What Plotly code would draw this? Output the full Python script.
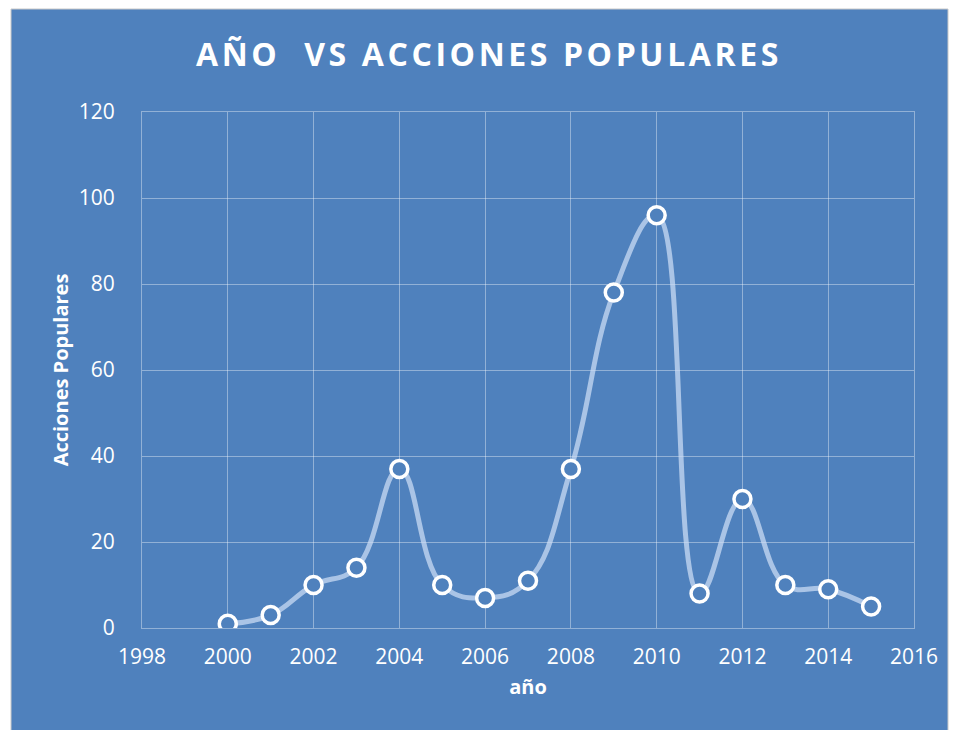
import plotly.graph_objects as go

years = [2000, 2001, 2002, 2003, 2004, 2005, 2006, 2007, 2008, 2009, 2010, 2011, 2012, 2013, 2014, 2015]
acciones = [1, 3, 10, 14, 37, 10, 7, 11, 37, 78, 96, 8, 30, 10, 9, 5]

title_text = "AÑO  VS ACCIONES POPULARES"
x_title = "año"
y_title = "Acciones Populares"

BLUE = "#4F81BD"
OFF = 8  # page body margin
W, H = 958 - 2 * OFF, 738 - 2 * OFF
L, T = 142 - OFF, 112 - OFF
R = W - (914 - OFF)
B = H - (628 - OFF)
pw, ph = W - L - R, H - T - B

fig = go.Figure()
fig.add_trace(go.Scatter(
    x=years, y=acciones, mode="lines+markers",
    line=dict(shape="spline", smoothing=1.2, color="rgba(205,222,245,0.72)", width=5),
    marker=dict(size=17, color=BLUE, line=dict(color="white", width=3.5)),
    hoverinfo="x+y", showlegend=False,
))

# blue panel background (in paper coordinates)
fig.add_shape(type="rect", xref="paper", yref="paper", layer="below",
              x0=(11 - OFF - L) / pw, x1=(948 - OFF - L) / pw,
              y0=(H - B - (731 - OFF)) / ph, y1=(H - B - (9 - OFF)) / ph,
              fillcolor=BLUE, line=dict(color="#c9c9c9", width=1))

grid = "rgba(255,255,255,0.38)"
fig.update_layout(
    width=W, height=H,
    margin=dict(l=L, r=R, t=T, b=B),
    paper_bgcolor="white", plot_bgcolor=BLUE,
    font=dict(family="Open Sans", color="white"),
    title=dict(text="<b><span style='letter-spacing:3.6px'>" + title_text + "</span></b>",
               x=(489 - OFF - L) / pw, xref="paper", xanchor="center",
               y=1 - (55 - OFF) / H, yanchor="middle",
               font=dict(size=32, color="white", family="Open Sans")),
    xaxis=dict(range=[1998, 2016], dtick=2, tick0=1998, showgrid=True, gridcolor=grid, gridwidth=1.2,
               zeroline=False, ticks="", ticklabelstandoff=10,
               tickfont=dict(size=21, color="white"),
               title=dict(text="<b>" + x_title + "</b>", font=dict(size=20, color="white"), standoff=10)),
    yaxis=dict(range=[0, 120], dtick=20, showgrid=True, gridcolor=grid, gridwidth=1.2,
               zeroline=False, ticks="", ticklabelstandoff=22,
               tickfont=dict(size=21, color="white"),
               title=dict(text="<b>" + y_title + "</b>", font=dict(size=20, color="white"), standoff=4)),
)
fig.update_xaxes(showline=True, linecolor=grid, linewidth=1.2, mirror=True)
fig.update_yaxes(showline=True, linecolor=grid, linewidth=1.2, mirror=True)

fig.write_html("out.html")
